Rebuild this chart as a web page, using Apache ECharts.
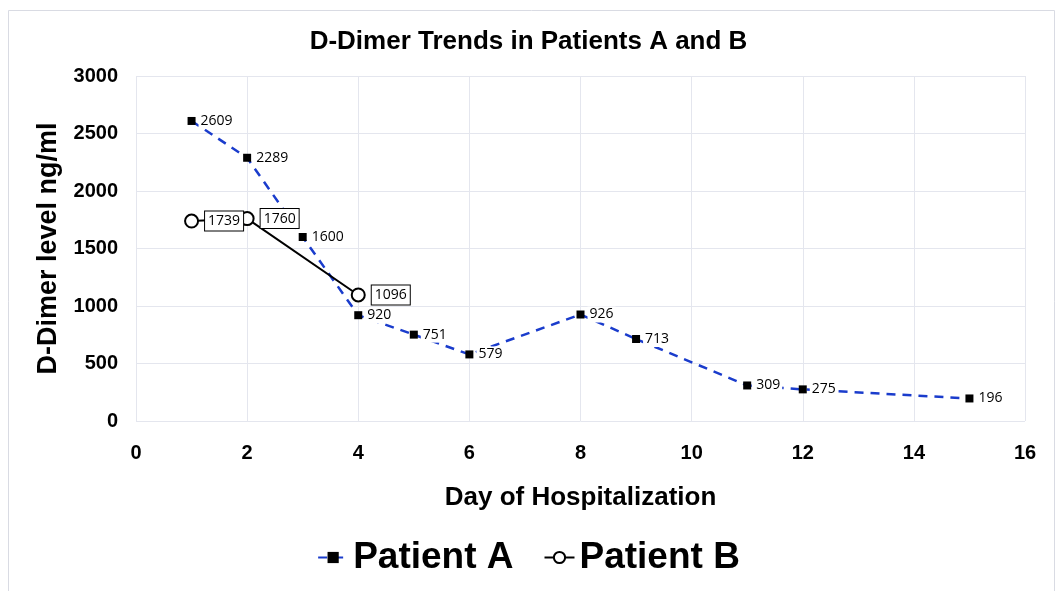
<!DOCTYPE html>
<html><head><meta charset="utf-8">
<script src="https://cdn.jsdelivr.net/npm/echarts@6/dist/echarts.min.js"></script>
<style>html,body{margin:0;padding:0;background:#fff}#c{width:1057px;height:591px}</style>
</head><body><div id="c"></div>
<script>
const daysA = [1, 2, 3, 4, 5, 6, 8, 9, 11, 12, 15];
const valuesA = [2609, 2289, 1600, 920, 751, 579, 926, 713, 309, 275, 196];
const daysB = [1, 2, 4];
const valuesB = [1739, 1760, 1096];
const xTicks = [0, 2, 4, 6, 8, 10, 12, 14, 16];
const yTicks = [0, 500, 1000, 1500, 2000, 2500, 3000];

const F = "'Liberation Sans Narrow', 'Liberation Sans', 'Open Sans', sans-serif";
const FL = "'Open Sans', 'Liberation Sans', sans-serif";
const chart = echarts.init(document.getElementById('c'));
chart.setOption({
  backgroundColor: '#fff',
  animation: false,
  graphic: [{type: 'rect', left: 6, top: 8, shape: {width: 1046, height: 600}, style: {fill: 'none', stroke: '#d9dbe3', lineWidth: 1}, z: -1}],
  title: {text: 'D-Dimer Trends in Patients A and B', left: 'center', top: 24,
    textStyle: {fontFamily: F, fontWeight: 'bold', fontSize: 26, color: '#000'}},
  grid: {left: 136, right: 32, top: 76, bottom: 170},
  xAxis: {type: 'value', min: 0, max: 16, interval: 2,
    name: 'Day of Hospitalization', nameLocation: 'middle', nameGap: 64,
    nameTextStyle: {fontFamily: F, fontWeight: 'bold', fontSize: 26, color: '#000'},
    axisLine: {show: false}, axisTick: {show: false},
    axisLabel: {fontFamily: F, fontWeight: 'bold', fontSize: 20, color: '#000', margin: 22,
      formatter: v => xTicks.includes(v) ? String(v) : ''},
    splitLine: {show: true, lineStyle: {color: '#e4e6ee', width: 1}}},
  yAxis: {type: 'value', min: 0, max: 3000, interval: 500,
    name: 'D-Dimer level ng/ml', nameLocation: 'middle', nameGap: 74,
    nameTextStyle: {fontFamily: F, fontWeight: 'bold', fontSize: 27, color: '#000'},
    axisLine: {show: false}, axisTick: {show: false},
    axisLabel: {fontFamily: F, fontWeight: 'bold', fontSize: 20, color: '#000', margin: 18,
      formatter: v => yTicks.includes(v) ? String(v) : ''},
    splitLine: {show: true, lineStyle: {color: '#e4e6ee', width: 1}}},
  legend: {bottom: 10, left: 'center', itemGap: 30, itemWidth: 30, itemHeight: 14,
    textStyle: {fontFamily: F, fontWeight: 'bold', fontSize: 37, color: '#000'},
    data: ['Patient A', 'Patient B']},
  series: [
    {name: 'Patient A', type: 'line', data: daysA.map((d, i) => [d, valuesA[i]]),
      symbol: 'rect', symbolSize: 8, itemStyle: {color: '#000'},
      lineStyle: {color: '#1a3ccc', width: 2.5, type: [9, 7]},
      label: {show: true, position: 'right', distance: 3, formatter: p => p.value[1],
        fontFamily: FL, fontSize: 14, color: '#000', backgroundColor: '#fff', padding: [1, 2]},
      z: 2},
    {name: 'Patient B', type: 'line', data: daysB.map((d, i) => [d, valuesB[i]]),
      symbol: 'emptyCircle', symbolSize: 13, itemStyle: {color: '#000', borderWidth: 1.8},
      lineStyle: {color: '#000', width: 2},
      label: {show: true, position: 'right', distance: 6, formatter: p => p.value[1],
        fontFamily: FL, fontSize: 14, color: '#000', backgroundColor: '#fff',
        borderColor: '#000', borderWidth: 1, padding: [3, 3, 2, 3]},
      z: 3}
  ]
});
</script></body></html>
